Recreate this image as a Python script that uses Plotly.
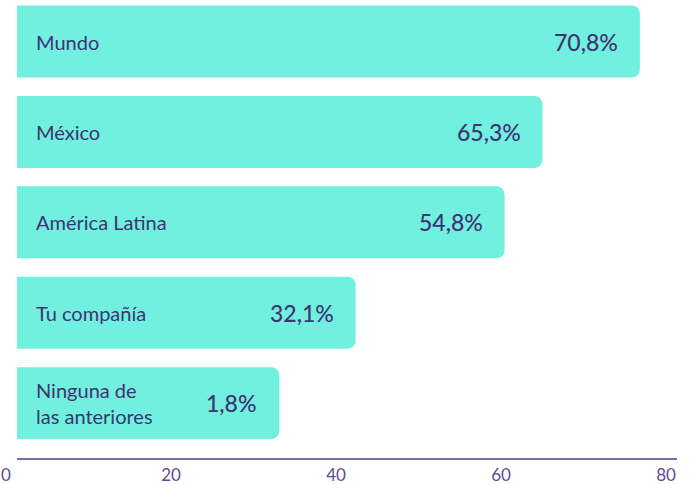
import plotly.graph_objects as go

categories = ["Mundo", "México", "América Latina", "Tu compañía", "Ninguna de<br>las anteriores"]
bar_lengths = [75.5, 63.7, 59.1, 41.05, 31.8]
value_labels = ["70,8%", "65,3%", "54,8%", "32,1%", "1,8%"]
tick_values = [0, 20, 40, 60, 80]
tick_labels = ["0", "20", "40", "60", "80"]

BAR = "#71EFDF"
TEXT = "#3F3472"
AXIS = "#7A6BAA"
TICK = "#5C4C92"
FONT = "Lato"

fig = go.Figure()
fig.add_trace(go.Bar(
    x=bar_lengths, y=categories, orientation="h",
    marker=dict(color=BAR, line=dict(width=0)),
    hoverinfo="skip",
))

for cat, length, lab in zip(categories, bar_lengths, value_labels):
    fig.add_annotation(x=0, y=cat, xref="x", yref="y", text=cat, showarrow=False,
                       xanchor="left", xshift=17, align="left",
                       font=dict(family=FONT, size=20, color=TEXT))
    fig.add_annotation(x=length, y=cat, xref="x", yref="y", text=lab, showarrow=False,
                       xanchor="right", xshift=-20,
                       font=dict(family=FONT, size=23, color=TEXT, weight=500))

fig.update_layout(
    width=694, height=484,
    margin=dict(l=17, r=17, t=0, b=26, autoexpand=False),
    paper_bgcolor="white", plot_bgcolor="white",
    bargap=0.204, barcornerradius=8,
    showlegend=False,
    font=dict(family=FONT),
    xaxis=dict(range=[0, 80], tickvals=tick_values, ticktext=tick_labels,
               automargin=False,
               showgrid=False, zeroline=False, showline=True, linecolor=AXIS, linewidth=2,
               ticks="", tickfont=dict(family=FONT, size=17, color=TICK),
               ticklabelshift=-11, ticklabelstandoff=1, fixedrange=True),
    yaxis=dict(type="category", categoryorder="array", categoryarray=categories,
               automargin=False,
               range=[4.607, -0.459], showticklabels=False, showgrid=False,
               zeroline=False, showline=False, ticks="", fixedrange=True),
)

fig.write_html("out.html", config={"displayModeBar": False},
               post_script="document.body.style.margin='0';")
